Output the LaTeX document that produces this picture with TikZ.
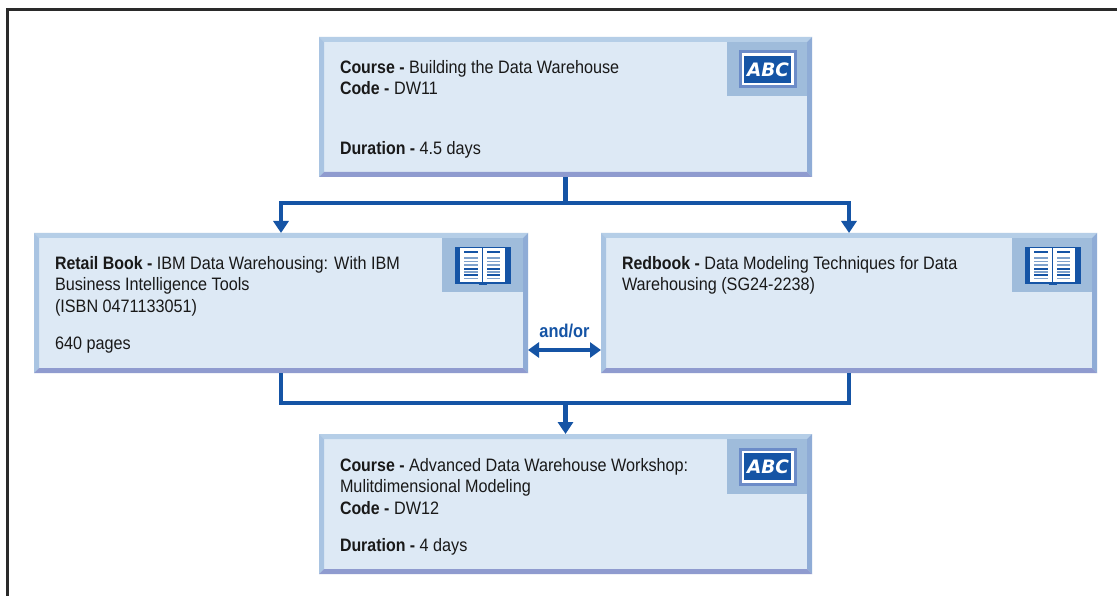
\documentclass[tikz,border=0pt]{standalone}
\usepackage{fontspec}
\setmainfont[FakeStretch=0.9,BoldFeatures={FakeStretch=0.885}]{Liberation Sans}
\newfontfamily\abcfont[Scale=1]{DejaVu Sans}
\usetikzlibrary{arrows.meta,calc}
\definecolor{fillc}{HTML}{DDE9F5}
\definecolor{tabc}{HTML}{9FBCDB}
\definecolor{topc}{HTML}{B5CEE7}
\definecolor{leftc}{HTML}{A9C4E2}
\definecolor{rightc}{HTML}{8FACD6}
\definecolor{botc}{HTML}{8F9BCF}
\definecolor{linkc}{HTML}{1554A5}
\definecolor{pagec}{HTML}{7FA2CC}
\definecolor{iconc}{HTML}{6C8CC8}
\definecolor{framec}{HTML}{2A2A2A}
\tikzset{
  x=1pt,y=-1pt,
  panel/.style={fill=fillc,draw=none,inner sep=0pt,outer sep=0pt,anchor=north west,minimum width=#1,minimum height=140pt},
  tabbox/.style={fill=tabc,inner sep=0pt,outer sep=0pt,minimum width=#1,minimum height=54.5pt,anchor=north east},
  body/.style={anchor=north west,inner sep=0pt,outer sep=0pt,align=left,font=\fontsize{18}{21.6}\selectfont,text=black!90},
  link/.style={draw=linkc,line width=4.6pt},
  tip/.style={-{Triangle[length=12pt,width=15pt]}},
  twotip/.style={{Triangle[length=11pt,width=15pt]}-{Triangle[length=11pt,width=15pt]}},
  linklabel/.style={font=\bfseries\fontsize{18.5}{20}\selectfont,text=linkc,inner sep=0pt}
}
% bevel round a panel
\newcommand{\bevel}[1]{%
  \fill[topc] (#1.north west)--(#1.north east)--($(#1.north east)+(-5,5)$)--($(#1.north west)+(5,5)$)--cycle;
  \fill[leftc] (#1.north west)--($(#1.north west)+(5,5)$)--($(#1.south west)+(5,-5)$)--(#1.south west)--cycle;
  \fill[rightc] (#1.north east)--($(#1.north east)+(-5,5)$)--($(#1.south east)+(-5,-5)$)--(#1.south east)--cycle;
  \fill[botc] (#1.south west)--($(#1.south west)+(5,-5)$)--($(#1.south east)+(-5,-5)$)--(#1.south east)--cycle;
}
% ABC icon centred at (#1)
\newcommand{\abcicon}[1]{%
  \begin{scope}[shift={(#1)}]
    \fill[iconc] (-29,-19) rectangle (29,19);
    \fill[white] (-26,-16) rectangle (26,16);
    \fill[linkc] (-23.5,-13.5) rectangle (23.5,13.5);
    \node[text=white,inner sep=0pt,font=\abcfont\bfseries\itshape\fontsize{18.5}{18}\selectfont] at (0.5,0) {ABC};
  \end{scope}}
% open book icon centred at (#1)
\newcommand{\bookicon}[1]{%
  \begin{scope}[shift={(#1)}]
    \fill[linkc] (-28,-19) rectangle (28,18);
    \fill[linkc] (-4,18) rectangle (4,19.5);
    \fill[white] (-23,-18) rectangle (-1,16);
    \fill[white] (0.5,-18) rectangle (22,16);
    \foreach \yy/\cc in {-14/linkc,-8/pagec,-4.4/pagec,-0.8/pagec,2.8/linkc,5.9/pagec,9/linkc,12.5/pagec}{
      \draw[\cc,line width=1.5pt] (-18.5,\yy) -- (-4.5,\yy);
      \draw[\cc,line width=1.5pt] (4.5,\yy) -- (17.5,\yy);
    }
  \end{scope}}
\begin{document}
\begin{tikzpicture}
\useasboundingbox (0,0) rectangle (1117,596);
\fill[white] (0,0) rectangle (1117,596);
% frame
\draw[framec,line width=3pt] (7.5,596) -- (7.5,9.5) -- (1117,9.5);
% panels
\node[panel=493pt] (top) at (319,37) {};
\node[panel=494pt] (left) at (34,233) {};
\node[panel=496pt] (right) at (601,233) {};
\node[panel=493pt] (bottom) at (319,434) {};
\bevel{top}\bevel{left}\bevel{right}\bevel{bottom}
% icon tabs
\node[tabbox=80pt] (toptab) at (807,42) {};
\node[tabbox=81pt] (lefttab) at (523,238) {};
\node[tabbox=80pt] (righttab) at (1092,238) {};
\node[tabbox=80pt] (bottomtab) at (807,439) {};
\abcicon{767.5,69.5}
\abcicon{767.5,466.5}
\bookicon{482.5,266}
\bookicon{1052.5,266}
% texts
\node[body] (toptext) at (340,60) {\textbf{Course -} Building the Data Warehouse\\\textbf{Code -} DW11\\[38.4pt]\textbf{Duration -} 4.5 days};
\node[body] (lefttext) at (55,256) {\textbf{Retail Book -} IBM Data Warehousing: With IBM\\Business Intelligence Tools\\(ISBN 0471133051)\\[16pt]640 pages};
\node[body] (righttext) at (622,256) {\textbf{Redbook -} Data Modeling Techniques for Data\\Warehousing (SG24-2238)};
\node[body] (bottomtext) at (340,458) {\textbf{Course -} Advanced Data Warehouse Workshop:\\Mulitdimensional Modeling\\\textbf{Code -} DW12\\[16pt]\textbf{Duration -} 4 days};
% connectors
\coordinate (split) at ($(top.south)+(0,26)$);
\coordinate (merge) at ($(bottom.north)+(0,-31)$);
\draw[link] (top.south) -- (split);
\draw[link,tip] (split) -| (left.north);
\draw[link,tip] (split) -| (right.north);
\draw[link] (left.south) |- (merge);
\draw[link] (right.south) |- (merge);
\draw[link,tip] (merge) -- (bottom.north);
\coordinate (orl) at ($(left.south east)+(0,-23)$);
\coordinate (orr) at ($(right.south west)+(0,-23)$);
\draw[link,twotip] (orl) -- node[linklabel,above=10pt] (orlabel) {and/or} (orr);
\end{tikzpicture}
\end{document}
